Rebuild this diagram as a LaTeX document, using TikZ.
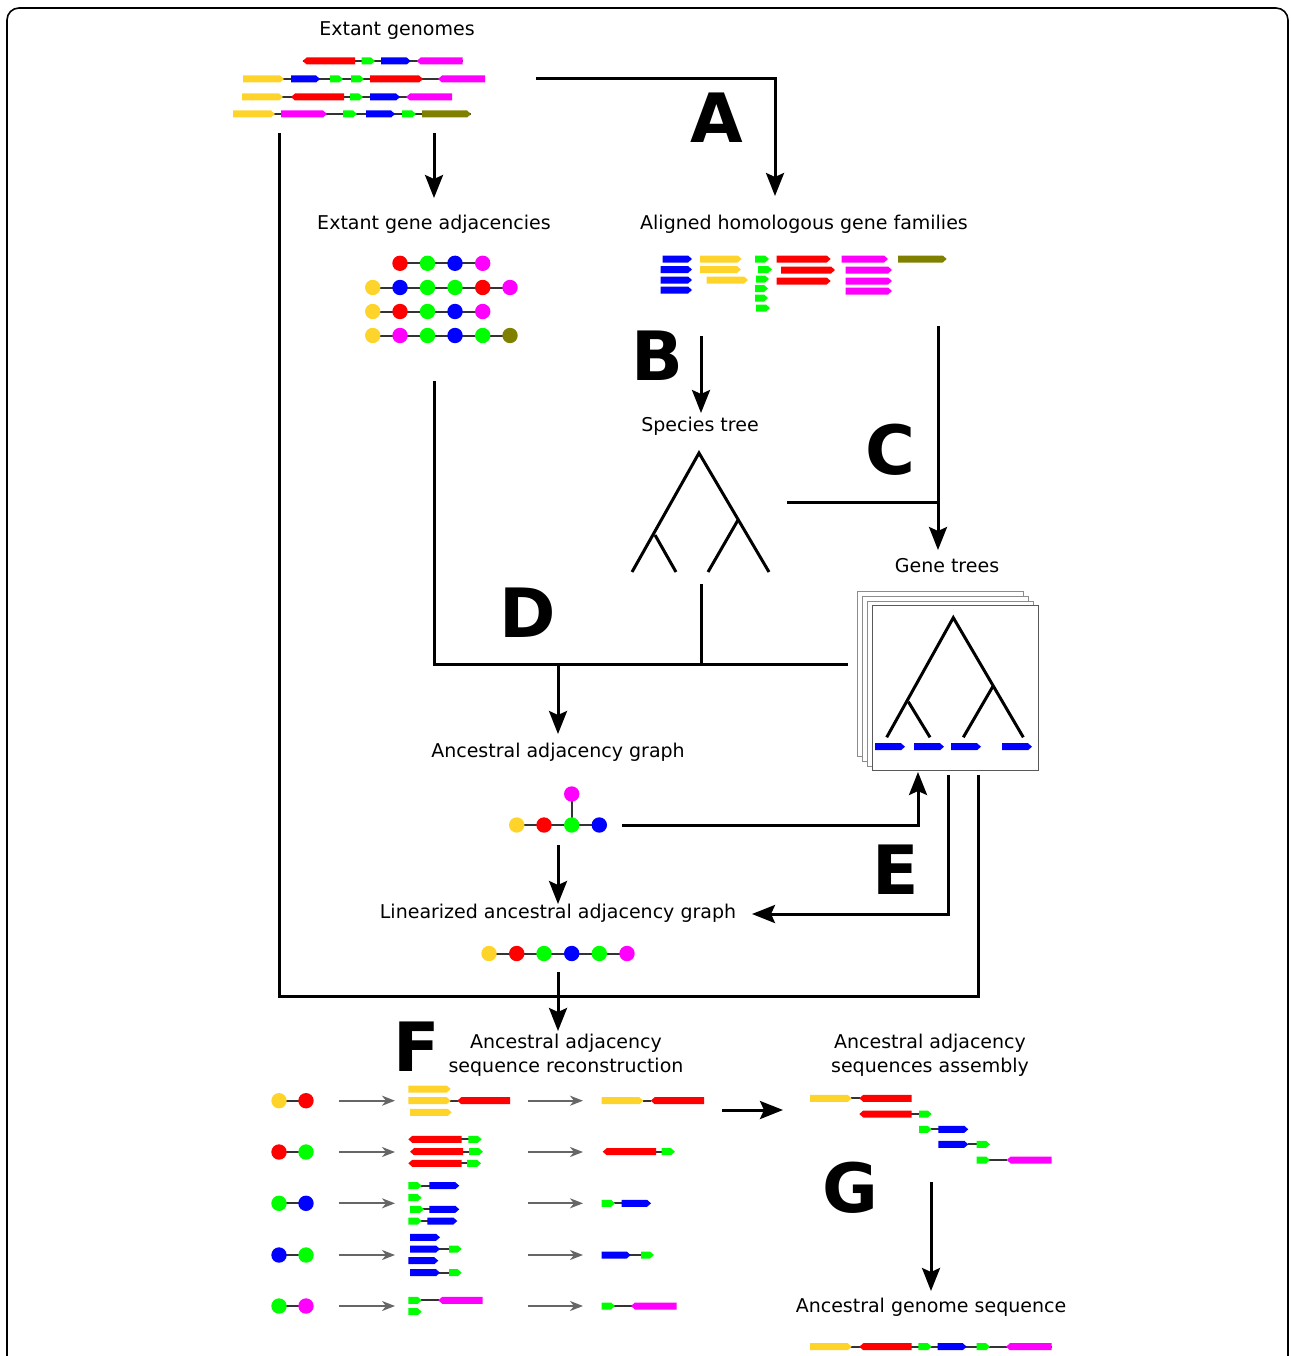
\documentclass[tikz,border=0pt]{standalone}
\usepackage{fontspec}
\setmainfont{DejaVu Sans}
\usetikzlibrary{arrows.meta}
\definecolor{cY}{HTML}{FFD42A}
\definecolor{cR}{HTML}{FF0000}
\definecolor{cG}{HTML}{00FF00}
\definecolor{cB}{HTML}{0000FF}
\definecolor{cM}{HTML}{FF00FF}
\definecolor{cO}{HTML}{808000}
\tikzset{
  lbl/.style={font=\fontsize{19}{24}\selectfont, inner sep=0pt, align=center},
  big/.style={font=\fontsize{68}{68}\selectfont\bfseries, inner sep=0pt},
  conn/.style={line width=3pt, -{Stealth[length=23pt,width=18pt,inset=4pt]}},
  wire/.style={line width=3pt},
  link/.style={line width=2pt, draw=black!80},
  garr/.style={line width=2pt, draw=black!60, -{Stealth[length=13pt,width=10pt,inset=4pt]}},
  treeline/.style={line width=3pt},
  stackbox/.style={draw=black!45, line width=1pt, fill=white},
}
\newcommand\gR[4]{\fill[#1] (#2,#4-3.5) -- (#3-4,#4-3.5) -- (#3,#4) -- (#3-4,#4+3.5) -- (#2,#4+3.5) -- cycle;}
\newcommand\gL[4]{\fill[#1] (#2,#4) -- (#2+4,#4-3.5) -- (#3,#4-3.5) -- (#3,#4+3.5) -- (#2+4,#4+3.5) -- cycle;}
\newcommand\lnk[3]{\draw[link] (#1,#3) -- (#2,#3);}
\newcommand\bead[3]{\fill[#1] (#2,#3) circle (7.7);}
\begin{document}
\begin{tikzpicture}[x=1pt,y=-1pt]
\useasboundingbox (0,0) rectangle (1290,1356);
\clip (0,0) rectangle (1290,1356);
\draw[line width=1.6pt, rounded corners=12pt] (7,8) rectangle (1288,1400);

% ---------- labels ----------
\node[lbl] (tGen) at (397,31) {Extant genomes};
\node[lbl] (tAdj) at (434,224) {Extant gene adjacencies};
\node[lbl] (tFam) at (804,224) {Aligned homologous gene families};
\node[lbl] (tSp) at (700,426) {Species tree};
\node[lbl] (tGt) at (947,566) {Gene trees};
\node[lbl] (tAag) at (558,752) {Ancestral adjacency graph};
\node[lbl] (tLin) at (558,913) {Linearized ancestral adjacency graph};
\node[lbl] (tRec) at (566,1055) {Ancestral adjacency\\sequence reconstruction};
\node[lbl] (tAsm) at (930,1055) {Ancestral adjacency\\sequences assembly};
\begin{scope}
\clip (760,1285) rectangle (1066,1330);
\node[lbl] (tAnc) at (931,1307) {Ancestral genome sequence};
\end{scope}

\node[big] (lA) at (717,118) {A};
\node[big] (lB) at (657,356) {B};
\node[big] (lC) at (890,450) {C};
\node[big] (lD) at (528,613) {D};
\node[big] (lE) at (896,870) {E};
\node[big] (lF) at (417,1047) {F};
\node[big] (lG) at (850,1188) {G};

% ---------- extant genomes ----------
\lnk{303}{463}{61}
\gL{cR}{302.7}{355}{61}\gR{cG}{361.7}{375}{61}\gR{cB}{381}{410.7}{61}\gL{cM}{416.7}{462.7}{61}
\lnk{243}{485}{79}
\gR{cY}{243}{284}{79}\gR{cB}{291}{320}{79}\gR{cG}{330}{343}{79}\gR{cG}{351}{364}{79}\gR{cR}{370}{423}{79}\gL{cM}{438}{485}{79}
\lnk{242}{452}{97}
\gR{cY}{242}{283}{97}\gL{cR}{291}{344}{97}\gR{cG}{350}{363}{97}\gR{cB}{370}{400}{97}\gL{cM}{406}{452}{97}
\lnk{233}{471}{114}
\gR{cY}{233}{275}{114}\gR{cM}{281}{327}{114}\gR{cG}{343}{357}{114}\gR{cB}{366}{395}{114}\gR{cG}{402}{416}{114}\gR{cO}{422}{471}{114}

% ---------- extant adjacencies ----------
\draw[link] (400,263.3) -- (482.7,263.3);
\bead{cR}{400}{263.3}\bead{cG}{427.5}{263.3}\bead{cB}{455}{263.3}\bead{cM}{482.7}{263.3}
\draw[link] (372.7,287.5) -- (510,287.5);
\bead{cY}{372.7}{287.5}\bead{cB}{400}{287.5}\bead{cG}{427.5}{287.5}\bead{cG}{455}{287.5}\bead{cR}{482.7}{287.5}\bead{cM}{510}{287.5}
\draw[link] (372.7,311.5) -- (482.7,311.5);
\bead{cY}{372.7}{311.5}\bead{cR}{400}{311.5}\bead{cG}{427.5}{311.5}\bead{cB}{455}{311.5}\bead{cM}{482.7}{311.5}
\draw[link] (372.7,335.5) -- (510,335.5);
\bead{cY}{372.7}{335.5}\bead{cM}{400}{335.5}\bead{cG}{427.5}{335.5}\bead{cB}{455}{335.5}\bead{cG}{482.7}{335.5}\bead{cO}{510}{335.5}

% ---------- gene families ----------
\gR{cB}{662.7}{692}{259}\gR{cB}{660.7}{692}{269.5}\gR{cB}{660.7}{692}{280}\gR{cB}{660.7}{692}{290}
\gR{cY}{700}{741.7}{259}\gR{cY}{700}{741}{269.5}\gR{cY}{706.7}{748}{280}
\gR{cG}{755}{769}{259}\gR{cG}{758}{772}{269.5}\gR{cG}{756}{769}{279}\gR{cG}{755}{768}{288.5}\gR{cG}{755}{768}{298}\gR{cG}{756}{770}{308}
\gR{cR}{776.7}{830.7}{259}\gR{cR}{781}{835}{270}\gR{cR}{776.7}{830.7}{281}
\gR{cM}{841.7}{888}{259}\gR{cM}{845.7}{892}{270}\gR{cM}{845.7}{892}{281}\gR{cM}{845.7}{892}{291}
\gR{cO}{898}{946.7}{259}

% ---------- species tree ----------
\draw[treeline] (632,572) -- (699,453) -- (769,572);
\draw[treeline] (655,535) -- (676,572);
\draw[treeline] (738,520) -- (708,572);

% ---------- gene trees ----------
\draw[stackbox] (857,591) rectangle (1023,756);
\draw[stackbox] (862,596) rectangle (1028,761);
\draw[stackbox] (867,601) rectangle (1033,766);
\draw[stackbox, draw=black!65] (872,605) rectangle (1038,770);
\draw[treeline] (886.7,737.3) -- (953.3,617.7) -- (1023.3,737.3);
\draw[treeline] (908.3,701.7) -- (930,737.3);
\draw[treeline] (992.7,686.7) -- (963.3,737.3);
\gR{cB}{875}{905}{746.7}\gR{cB}{914}{944}{746.7}\gR{cB}{951}{981}{746.7}\gR{cB}{1002}{1032}{746.7}

% ---------- ancestral adjacency graph ----------
\draw[link] (516.7,825) -- (599.3,825);
\draw[link] (571.7,794) -- (571.7,825);
\bead{cY}{516.7}{825}\bead{cR}{544}{825}\bead{cG}{571.7}{825}\bead{cB}{599.3}{825}\bead{cM}{571.7}{794}

% ---------- linearized ----------
\draw[link] (489,953.5) -- (627,953.5);
\bead{cY}{489}{953.5}\bead{cR}{516.7}{953.5}\bead{cG}{544}{953.5}\bead{cB}{571.7}{953.5}\bead{cG}{599.3}{953.5}\bead{cM}{627}{953.5}

% ---------- connectors ----------
\coordinate (a1) at (536,79);   \coordinate (a2) at (775,196);
\draw[conn] (a1) -| (a2);
\coordinate (b1) at (434,133);  \coordinate (b2) at (434,198);
\draw[conn] (b1) -- (b2);
\coordinate (l1) at (279,133);  \coordinate (l2) at (978,775);
\draw[wire] (l1) |- (978,996) -- (l2);
\coordinate (s1) at (701,336);  \coordinate (s2) at (701,413);
\draw[conn] (s1) -- (s2);
\coordinate (c1) at (938,326);  \coordinate (c2) at (938,550);
\draw[conn] (c1) -- (c2);
\coordinate (c3) at (787,502);  \coordinate (c4) at (938,502);
\draw[wire] (c3) -- (c4);
\coordinate (d1) at (434,381);  \coordinate (d2) at (848,664);
\draw[wire] (d1) |- (d2);
\coordinate (d3) at (701,584);  \coordinate (d4) at (701,664);
\draw[wire] (d3) -- (d4);
\coordinate (d5) at (558,664);  \coordinate (d6) at (558,734);
\draw[conn] (d5) -- (d6);
\coordinate (e1) at (622,825);  \coordinate (e2) at (918,772);
\draw[conn] (e1) -| (e2);
\coordinate (e3) at (948,775);  \coordinate (e4) at (752,914);
\draw[conn] (e3) |- (e4);
\coordinate (g1) at (558,845);  \coordinate (g2) at (558,904);
\draw[conn] (g1) -- (g2);
\coordinate (f1) at (558,972);  \coordinate (f2) at (558,1031);
\draw[conn] (f1) -- (f2);
\coordinate (h1) at (722,1110); \coordinate (h2) at (783,1110);
\draw[conn] (h1) -- (h2);
\coordinate (k1) at (931,1182); \coordinate (k2) at (931,1291);
\draw[conn] (k1) -- (k2);

% ---------- bottom: pairs ----------
\foreach \yy/\ca/\cb in {1100.7/cY/cR, 1152/cR/cG, 1203.3/cG/cB, 1255/cB/cG, 1306/cG/cM}{
  \draw[link] (279,\yy) -- (306,\yy);
  \fill[\ca] (279,\yy) circle (7.7);
  \fill[\cb] (306,\yy) circle (7.7);
  \draw[garr] (339,\yy) -- (395,\yy);
  \draw[garr] (528,\yy) -- (583,\yy);
}

% row 1
\gR{cY}{408.3}{450.7}{1089}
\lnk{450}{458}{1100.7}\gR{cY}{408.3}{450.7}{1100.7}\gL{cR}{457.3}{510}{1100.7}
\gR{cY}{410}{451.7}{1112.3}
\lnk{643}{651}{1100.7}\gR{cY}{601.7}{643.3}{1100.7}\gL{cR}{650.7}{704}{1100.7}
% row 2
\lnk{461}{469}{1139.3}\gL{cR}{408.3}{461.7}{1139.3}\gR{cG}{468.3}{481.7}{1139.3}
\lnk{462}{470}{1151.7}\gL{cR}{410}{463}{1151.7}\gR{cG}{469}{483}{1151.7}
\lnk{461}{468}{1163.3}\gL{cR}{408.3}{461.7}{1163.3}\gR{cG}{467}{481}{1163.3}
\lnk{655}{662}{1151.7}\gL{cR}{602.7}{656}{1151.7}\gR{cG}{661.7}{675}{1151.7}
% row 3
\lnk{421}{430}{1185.7}\gR{cG}{408.3}{421.7}{1185.7}\gR{cB}{429.3}{459.3}{1185.7}
\gR{cG}{408.3}{421.7}{1197.7}
\lnk{423}{430}{1209.3}\gR{cG}{410}{424}{1209.3}\gR{cB}{429.3}{459.3}{1209.3}
\lnk{421}{428}{1221}\gR{cG}{408.3}{421.7}{1221}\gR{cB}{427.3}{457.3}{1221}
\lnk{614}{622}{1203.3}\gR{cG}{601.7}{615}{1203.3}\gR{cB}{621.7}{651}{1203.3}
% row 4
\gR{cB}{410}{440}{1237.3}
\lnk{439}{450}{1249}\gR{cB}{410}{440}{1249}\gR{cG}{449}{461.7}{1249}
\gR{cB}{408.3}{438.3}{1260.7}
\lnk{439}{450}{1272.7}\gR{cB}{410}{440}{1272.7}\gR{cG}{449}{461.7}{1272.7}
\lnk{630}{642}{1255}\gR{cB}{601.7}{630.7}{1255}\gR{cG}{641}{654}{1255}
% row 5
\lnk{421}{439}{1300.3}\gR{cG}{408.3}{421.7}{1300.3}\gL{cM}{438.3}{482.7}{1300.3}
\gR{cG}{408.3}{421.7}{1311.7}
\lnk{614}{632}{1306}\gR{cG}{601.7}{615}{1306}\gL{cM}{631}{676.7}{1306}

% ---------- assembly ----------
\lnk{851}{860}{1098.3}\gR{cY}{810}{851.7}{1098.3}\gL{cR}{859.3}{911.7}{1098.3}
\lnk{911}{920}{1114}\gL{cR}{859.3}{911.7}{1114}\gR{cG}{919}{931.7}{1114}
\lnk{931}{939}{1129.3}\gR{cG}{919}{931.7}{1129.3}\gR{cB}{938.3}{968.3}{1129.3}
\lnk{968}{977}{1144.3}\gR{cB}{938.3}{968.3}{1144.3}\gR{cG}{976.7}{990}{1144.3}
\lnk{989}{1007}{1160}\gR{cG}{976.7}{990}{1160}\gL{cM}{1006.7}{1051.7}{1160}

% ---------- final genome ----------
\lnk{810}{1052}{1346.7}
\gR{cY}{810}{851.7}{1346.7}\gL{cR}{859.3}{911.7}{1346.7}\gR{cG}{918.3}{931.7}{1346.7}\gR{cB}{937.7}{966.7}{1346.7}\gR{cG}{976.7}{990}{1346.7}\gL{cM}{1006}{1051.7}{1346.7}
\end{tikzpicture}
\end{document}
